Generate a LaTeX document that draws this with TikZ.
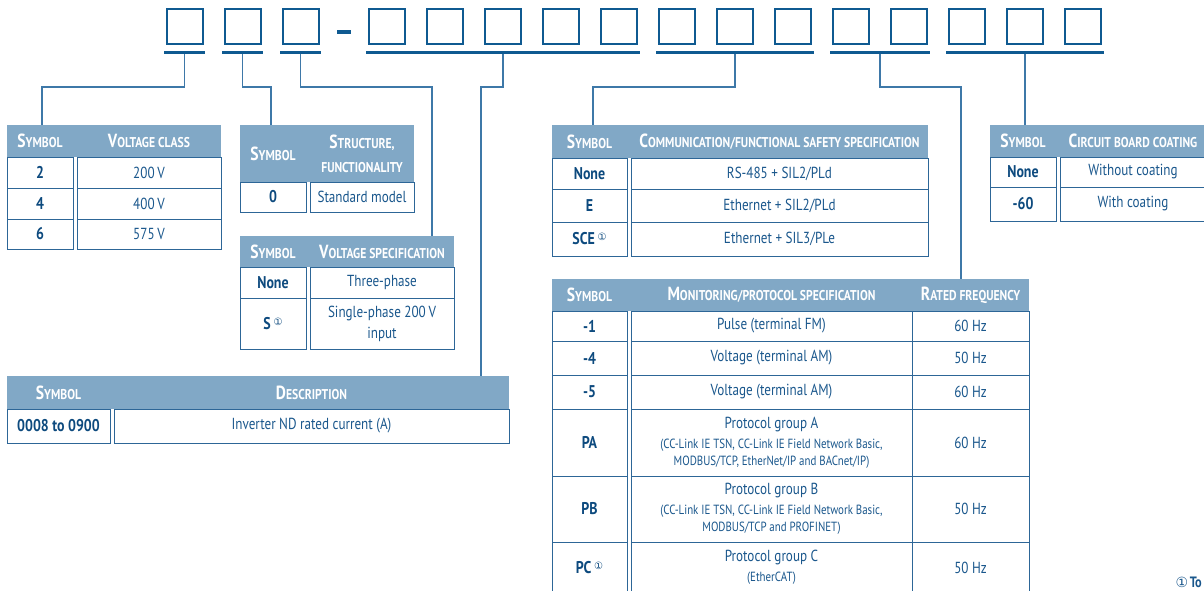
\documentclass[tikz,border=0pt]{standalone}
\usepackage{fontspec}
\setmainfont{PT Sans}[FakeStretch=0.82]
\newfontfamily\circfont{DejaVu Sans}
\definecolor{boxblue}{HTML}{0F5A91}
\definecolor{linkblue}{HTML}{3E78A8}
\definecolor{hdrblue}{HTML}{81A8C6}
\definecolor{txtblue}{HTML}{1A578C}
\definecolor{symblue}{HTML}{0D4A7E}
\definecolor{cellline}{HTML}{2D6697}
\newcommand{\hS}[2]{{\fontsize{19}{19}\selectfont #1}{\fontsize{14.2}{14.2}\selectfont #2}}
\newcommand{\circone}{\,\raisebox{4pt}{\circfont\fontsize{10}{10}\selectfont\mdseries ①}}
\newcommand{\smallline}{\fontsize{13.3}{17}\selectfont}
\newcommand{\tcell}[7]{\node[#6, minimum width={(#4-#2)*1pt}, minimum height={(#5-#3)*1pt}] (#1) at ({(#2+#4)/2},{(#3+#5)/2}) {#7};}
\tikzset{
  codebox/.style={draw=boxblue, line width=2.4pt, minimum width=35.6pt, minimum height=34.6pt, inner sep=0pt},
  codebar/.style={fill=boxblue, inner sep=0pt, minimum height=3pt},
  link/.style={draw=linkblue, line width=1.2pt},
  hdrfill/.style={fill=hdrblue, inner sep=0pt},
  hdrtext/.style={text=white, font=\bfseries\fontsize{14.2}{24}\selectfont, align=center, inner sep=0pt},
  cellbox/.style={draw=cellline, line width=0.9pt, inner sep=0pt, text=txtblue, align=center, font=\fontsize{16}{21}\selectfont},
  symcell/.style={cellbox, text=symblue, font=\bfseries\fontsize{17}{21}\selectfont},
}
\begin{document}
\begin{tikzpicture}[x=1pt,y=-1pt]
\useasboundingbox (0,0) rectangle (1204,590);
% code boxes
\foreach \i [count=\n] in {166,224,282} {
  \node[codebox] (b\n) at (\i+19,26.5) {};
}
\foreach \i [count=\n from 4] in {368,426,484,542,600,658,716,774,832,890,948,1006,1064} {
  \node[codebox] (b\n) at (\i+19,26.5) {};
}
\node[fill=boxblue, inner sep=0pt, minimum width=14pt, minimum height=4pt] (dash) at (344,31.5) {};
% bars
\tcell{bar1}{164}{50.5}{205}{53.5}{codebar}{}
\tcell{bar2}{222}{50.5}{263}{53.5}{codebar}{}
\tcell{bar3}{280}{50.5}{321}{53.5}{codebar}{}
\tcell{bar4}{366}{50.5}{640}{53.5}{codebar}{}
\tcell{bar5}{656}{50.5}{814}{53.5}{codebar}{}
\tcell{bar6}{830}{50.5}{930}{53.5}{codebar}{}
\tcell{bar7}{946}{50.5}{1104}{53.5}{codebar}{}

% ---------- Voltage class ----------
\tcell{vch}{7}{125}{221}{157}{hdrfill}{}
\node[hdrtext] (vcha) at (40,141) {\hS{S}{YMBOL}};
\node[hdrtext] (vchb) at (149,141) {\hS{V}{OLTAGE CLASS}};
\tcell{vcs1}{7}{157}{73}{188}{symcell}{2}
\tcell{vcv1}{77}{157}{221}{188}{cellbox}{200\,V}
\tcell{vcs2}{7}{188}{73}{219}{symcell}{4}
\tcell{vcv2}{77}{188}{221}{219}{cellbox}{400\,V}
\tcell{vcs3}{7}{219}{73}{249}{symcell}{6}
\tcell{vcv3}{77}{219}{221}{249}{cellbox}{575\,V}

% ---------- Structure ----------
\tcell{sth}{240}{125}{414}{182}{hdrfill}{}
\node[hdrtext] (stha) at (273,153.5) {\hS{S}{YMBOL}};
\node[hdrtext] (sthb) at (362,153.5) {\hS{S}{TRUCTURE,}\\FUNCTIONALITY};
\tcell{sts1}{240}{182}{306}{212}{symcell}{0}
\tcell{stv1}{310}{182}{414}{212}{cellbox}{Standard model}

% ---------- Voltage specification ----------
\tcell{vsh}{240}{236}{454}{267}{hdrfill}{}
\node[hdrtext] (vsha) at (273,251.5) {\hS{S}{YMBOL}};
\node[hdrtext] (vshb) at (382,251.5) {\hS{V}{OLTAGE SPECIFICATION}};
\tcell{vss1}{240}{267}{306}{298}{symcell}{None}
\tcell{vsv1}{310}{267}{454}{298}{cellbox}{Three-phase}
\tcell{vss2}{240}{298}{306}{349}{symcell}{S\circone}
\tcell{vsv2}{310}{298}{454}{349}{cellbox}{Single-phase 200\,V\\input}

% ---------- Description ----------
\tcell{dsh}{7}{376}{509}{409}{hdrfill}{}
\node[hdrtext] (dsha) at (58.5,392.5) {\hS{S}{YMBOL}};
\node[hdrtext] (dshb) at (311.5,392.5) {\hS{D}{ESCRIPTION}};
\tcell{dss1}{7}{409}{110}{443}{symcell}{0008 to 0900}
\tcell{dsv1}{114}{409}{509}{443}{cellbox}{Inverter ND rated current (A)}

% ---------- Communication ----------
\tcell{cmh}{552}{125}{928}{158}{hdrfill}{}
\node[hdrtext] (cmha) at (589.5,141.5) {\hS{S}{YMBOL}};
\node[hdrtext] (cmhb) at (779.5,141.5) {\hS{C}{OMMUNICATION/FUNCTIONAL SAFETY SPECIFICATION}};
\tcell{cms1}{552}{158}{627}{189}{symcell}{None}
\tcell{cmv1}{631}{158}{928}{189}{cellbox}{RS-485 + SIL2/PLd}
\tcell{cms2}{552}{189}{627}{222}{symcell}{E}
\tcell{cmv2}{631}{189}{928}{222}{cellbox}{Ethernet + SIL2/PLd}
\tcell{cms3}{552}{222}{627}{256}{symcell}{SCE\circone}
\tcell{cmv3}{631}{222}{928}{256}{cellbox}{Ethernet + SIL3/PLe}

% ---------- Circuit board coating ----------
\tcell{cbh}{990}{125}{1206}{157}{hdrfill}{}
\node[hdrtext] (cbha) at (1023,141) {\hS{S}{YMBOL}};
\node[hdrtext] (cbhb) at (1133,141) {\hS{C}{IRCUIT BOARD COATING}};
\tcell{cbs1}{990}{157}{1056}{187}{symcell}{None}
\tcell{cbv1}{1060}{157}{1206}{187}{cellbox}{Without coating}
\tcell{cbs2}{990}{187}{1056}{221}{symcell}{-60}
\tcell{cbv2}{1060}{187}{1206}{221}{cellbox}{With coating}

% ---------- Monitoring ----------
\tcell{mnh}{552}{279}{1029}{311}{hdrfill}{}
\node[hdrtext] (mnha) at (589.5,295) {\hS{S}{YMBOL}};
\node[hdrtext] (mnhb) at (771.5,295) {\hS{M}{ONITORING/PROTOCOL SPECIFICATION}};
\node[hdrtext] (mnhc) at (970.5,295) {\hS{R}{ATED FREQUENCY}};
\tcell{mns1}{552}{311}{627}{341}{symcell}{-1}
\tcell{mnv1}{631}{311}{912}{341}{cellbox}{Pulse (terminal FM)}
\tcell{mnf1}{912}{311}{1029}{341}{cellbox}{60 Hz}
\tcell{mns2}{552}{341}{627}{375}{symcell}{-4}
\tcell{mnv2}{631}{341}{912}{375}{cellbox}{Voltage (terminal AM)}
\tcell{mnf2}{912}{341}{1029}{375}{cellbox}{50 Hz}
\tcell{mns3}{552}{375}{627}{409}{symcell}{-5}
\tcell{mnv3}{631}{375}{912}{409}{cellbox}{Voltage (terminal AM)}
\tcell{mnf3}{912}{375}{1029}{409}{cellbox}{60 Hz}
\tcell{mns4}{552}{409}{627}{476}{symcell}{PA}
\tcell{mnv4}{631}{409}{912}{476}{cellbox}{Protocol group A\\[-1pt]\smallline (CC-Link IE TSN, CC-Link IE Field Network Basic,\\[-4pt]\smallline MODBUS/TCP, EtherNet/IP and BACnet/IP)}
\tcell{mnf4}{912}{409}{1029}{476}{cellbox}{60 Hz}
\tcell{mns5}{552}{476}{627}{542}{symcell}{PB}
\tcell{mnv5}{631}{476}{912}{542}{cellbox}{Protocol group B\\[-1pt]\smallline (CC-Link IE TSN, CC-Link IE Field Network Basic,\\[-4pt]\smallline MODBUS/TCP and PROFINET)}
\tcell{mnf5}{912}{476}{1029}{542}{cellbox}{50 Hz}
\tcell{mns6}{552}{542}{627}{593}{symcell}{PC\circone}
\tcell{mnv6}{631}{542}{912}{593}{cellbox}{Protocol group C\\[-1pt]\smallline (EtherCAT)}
\tcell{mnf6}{912}{542}{1029}{593}{cellbox}{50 Hz}

% footnote
\node[anchor=east, inner sep=0pt, text=txtblue] (fn) at (1202,582) {{\circfont\fontsize{14}{14}\selectfont ①}\,{\bfseries\fontsize{15}{15}\selectfont To}};

% connectors
\coordinate (vcin) at (42,125);
\coordinate (stin) at (271,125);
\coordinate (vsin) at (432,236);
\coordinate (dsin) at (481,376);
\coordinate (cmin) at (593,125);
\coordinate (mnin) at (961,279);
\draw[link] (bar1.south) -- (bar1.south |- 0,87) -| (vcin);
\draw[link] (bar2.south) -- (bar2.south |- 0,87) -| (stin);
\draw[link] (bar3.south) -- (bar3.south |- 0,87) -| (vsin);
\draw[link] (bar4.south) -- (bar4.south |- 0,87) -| (dsin);
\draw[link] (bar5.south) -- (bar5.south |- 0,87) -| (cmin);
\draw[link] (bar6.south) -- (bar6.south |- 0,87) -| (mnin);
\draw[link] (bar7.south) -- (bar7.south |- cbh.north);
\end{tikzpicture}
\end{document}
